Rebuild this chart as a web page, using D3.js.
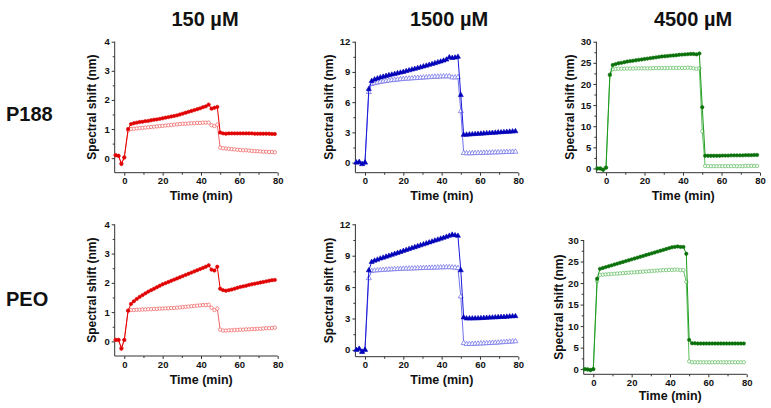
<!DOCTYPE html>
<html><head><meta charset="utf-8">
<script src="https://cdn.jsdelivr.net/npm/d3@7"></script>
<style>body{margin:0;background:#fff}svg{display:block;font-family:"Liberation Sans",Arial,sans-serif}</style>
</head><body><svg id="c" width="771" height="408"></svg>
<script>
// ---------- DATA ----------
const time = [-4.5,-3,-1.5,0,2,3.5,5,6.5,8,9.5,11,12.5,14,15.5,17,18.5,20,21.5,23,24.5,26,27.5,29,30.5,32,33.5,35,36.5,38,39.5,41,42.5,44,45.5,47,48.5,50,51.5,53,54.5,56,57.5,59,60.5,62,63.5,65,66.5,68,69.5,71,72.5,74,75.5,77,78.5];

const columnTitles = ["150 µM","1500 µM","4500 µM"];
const rowTitles = ["P188","PEO"];
const xTickValues = [0,20,40,60,80];
const yTicks150 = [0,1,2,3,4];
const yTicks1500 = [0,3,6,9,12];
const yTicks4500 = [0,5,10,15,20,25,30];
const xLabel = "Time (min)";
const yLabel = "Spectral shift (nm)";

const p188_150_filled = [0.10,0.08,-0.20,0.02,1.00,1.17,1.20,1.22,1.24,1.25,1.27,1.28,1.30,1.32,1.33,1.35,1.37,1.39,1.41,1.43,1.45,1.47,1.50,1.53,1.56,1.59,1.62,1.65,1.68,1.71,1.75,1.78,1.84,1.70,1.73,1.76,0.88,0.85,0.84,0.85,0.85,0.85,0.85,0.85,0.85,0.85,0.85,0.85,0.84,0.84,0.84,0.84,0.84,0.84,0.83,0.83];
const p188_150_open = [0.10,0.08,-0.18,0.03,0.95,1.00,1.01,1.02,1.03,1.04,1.05,1.06,1.07,1.08,1.09,1.10,1.11,1.12,1.13,1.14,1.15,1.16,1.17,1.18,1.18,1.19,1.20,1.20,1.21,1.21,1.22,1.22,1.22,1.13,1.10,1.15,0.36,0.34,0.33,0.32,0.31,0.30,0.29,0.28,0.27,0.27,0.26,0.25,0.24,0.24,0.23,0.22,0.22,0.21,0.21,0.20];

const p188_1500_filled = [0.00,0.05,-0.15,0.00,7.30,8.10,8.25,8.35,8.45,8.52,8.60,8.67,8.73,8.80,8.87,8.93,9.00,9.08,9.15,9.23,9.30,9.38,9.46,9.54,9.62,9.70,9.78,9.86,9.95,10.03,10.12,10.22,10.45,10.38,10.42,10.50,6.70,2.75,2.77,2.79,2.81,2.83,2.85,2.87,2.89,2.91,2.93,2.95,2.97,2.99,3.01,3.03,3.05,3.07,3.09,3.11];
const p188_1500_open = [0.00,0.05,-0.15,0.00,7.00,7.80,7.88,7.94,8.00,8.05,8.10,8.14,8.18,8.21,8.24,8.27,8.30,8.32,8.34,8.36,8.38,8.40,8.42,8.44,8.46,8.48,8.50,8.52,8.53,8.54,8.55,8.56,8.56,8.45,8.45,8.48,5.10,0.95,0.92,0.92,0.93,0.94,0.95,0.96,0.97,0.98,0.99,1.00,1.01,1.02,1.03,1.04,1.05,1.06,1.07,1.08];

const p188_4500_filled = [0.0,0.0,-0.3,0.2,22.2,24.5,24.7,24.9,25.0,25.15,25.3,25.4,25.5,25.6,25.7,25.8,25.9,26.0,26.1,26.2,26.3,26.4,26.5,26.55,26.6,26.7,26.75,26.8,26.9,26.95,27.0,27.05,27.1,27.1,27.0,27.2,14.5,3.0,3.0,3.0,3.0,3.0,3.0,3.05,3.05,3.05,3.1,3.1,3.1,3.1,3.1,3.15,3.15,3.15,3.2,3.2];
const p188_4500_open = [0.0,0.0,-0.3,0.2,22.0,23.5,23.55,23.6,23.6,23.6,23.65,23.65,23.65,23.7,23.7,23.7,23.7,23.7,23.7,23.75,23.75,23.75,23.75,23.75,23.75,23.8,23.8,23.8,23.8,23.8,23.8,23.85,23.8,23.7,23.6,23.7,8.8,0.6,0.55,0.55,0.55,0.55,0.55,0.55,0.55,0.55,0.55,0.55,0.55,0.55,0.55,0.6,0.6,0.6,0.6,0.6];

const peo_150_filled = [0.05,0.05,-0.25,0.05,1.05,1.28,1.37,1.45,1.52,1.58,1.64,1.70,1.75,1.80,1.85,1.90,1.95,1.99,2.03,2.07,2.11,2.15,2.19,2.23,2.27,2.31,2.35,2.39,2.43,2.47,2.51,2.55,2.60,2.45,2.42,2.55,1.80,1.75,1.73,1.75,1.77,1.80,1.83,1.86,1.88,1.90,1.93,1.95,1.97,1.99,2.01,2.03,2.05,2.07,2.09,2.10];
const peo_150_open = [0.05,0.05,-0.22,0.05,1.05,1.07,1.07,1.08,1.08,1.09,1.09,1.10,1.10,1.11,1.11,1.12,1.12,1.13,1.13,1.14,1.14,1.15,1.16,1.17,1.18,1.19,1.20,1.21,1.22,1.23,1.24,1.24,1.25,1.15,1.07,1.12,0.40,0.37,0.37,0.38,0.38,0.39,0.39,0.40,0.40,0.41,0.41,0.42,0.42,0.43,0.43,0.44,0.45,0.45,0.46,0.47];

const peo_1500_filled = [0.00,0.10,-0.20,0.00,7.60,8.40,8.52,8.62,8.72,8.81,8.90,8.99,9.08,9.17,9.26,9.35,9.45,9.54,9.63,9.72,9.81,9.90,9.99,10.08,10.17,10.26,10.35,10.44,10.53,10.62,10.71,10.80,10.90,11.00,10.95,10.90,7.60,3.10,3.00,3.00,3.00,3.01,3.02,3.03,3.05,3.06,3.08,3.09,3.11,3.12,3.14,3.15,3.17,3.19,3.21,3.22];
const peo_1500_open = [0.00,0.05,-0.15,0.00,6.85,7.55,7.58,7.60,7.62,7.64,7.66,7.68,7.69,7.71,7.72,7.74,7.75,7.76,7.77,7.78,7.79,7.80,7.81,7.82,7.83,7.84,7.85,7.86,7.87,7.88,7.89,7.90,7.90,7.88,7.86,7.82,5.10,0.65,0.56,0.56,0.57,0.58,0.60,0.61,0.62,0.64,0.65,0.67,0.68,0.70,0.72,0.74,0.76,0.78,0.80,0.82];

const peo_4500_filled = [0.0,-0.1,-0.2,0.0,21.0,23.3,23.5,23.7,23.9,24.1,24.3,24.5,24.7,24.9,25.1,25.3,25.5,25.7,25.9,26.1,26.3,26.5,26.7,26.9,27.1,27.3,27.5,27.7,27.9,28.1,28.3,28.4,28.5,28.4,28.4,26.8,6.8,6.0,6.0,5.95,5.95,5.95,5.95,5.95,5.95,5.95,5.95,5.95,5.95,5.95,5.95,5.95,5.95,5.95,5.95,5.95];
const peo_4500_open = [0.0,0.0,-0.2,0.0,20.4,21.9,21.95,22.0,22.05,22.1,22.15,22.2,22.25,22.3,22.35,22.4,22.45,22.5,22.55,22.6,22.65,22.7,22.75,22.8,22.85,22.9,22.95,23.0,23.0,23.05,23.05,23.1,23.1,23.0,23.0,20.3,1.8,1.6,1.6,1.6,1.6,1.6,1.6,1.6,1.6,1.6,1.6,1.6,1.6,1.6,1.6,1.6,1.6,1.6,1.6,1.6];

// ---------- LAYOUT / STYLE ----------
const red = {fLine:"#e80000", fMark:"#e00000", oLine:"#f06868", oMark:"#ee5a5a", shape:d3.symbolCircle};
const blue = {fLine:"#1a1ad8", fMark:"#0000b8", oLine:"#7070f0", oMark:"#6868e6", shape:d3.symbolTriangle};
const green = {fLine:"#1c9a1c", fMark:"#0a700a", oLine:"#5cc05c", oMark:"#5aba5a", shape:d3.symbolCircle};

const panels = [
  {filled:p188_150_filled, open:p188_150_open, c:red, ticks:yTicks150, yDom:[-0.5,4], xr:[114.7,277.7], yr:[172.7,41.7], yTitleX:92, xTitleY:200},
  {filled:p188_1500_filled, open:p188_1500_open, c:blue, ticks:yTicks1500, yDom:[-1,12], xr:[355.4,518.3], yr:[172.7,41.7], yTitleX:329, xTitleY:200},
  {filled:p188_4500_filled, open:p188_4500_open, c:green, ticks:yTicks4500, yDom:[-1,30], xr:[596.4,760], yr:[172.7,41.7], yTitleX:570, xTitleY:200},
  {filled:peo_150_filled, open:peo_150_open, c:red, ticks:yTicks150, yDom:[-0.5,4], xr:[114.7,277.7], yr:[356,224.3], yTitleX:92, xTitleY:384},
  {filled:peo_1500_filled, open:peo_1500_open, c:blue, ticks:yTicks1500, yDom:[-0.65,12], xr:[355.4,518.3], yr:[356.7,224.3], yTitleX:329, xTitleY:384},
  {filled:peo_4500_filled, open:peo_4500_open, c:green, ticks:yTicks4500, yDom:[-1.2,30], xr:[583.7,746.7], yr:[374.3,240], yTitleX:559, xTitleY:400}
];

const svg = d3.select("#c");
const txtCol = "#111";

// column + row titles
const colX = [205, 449, 693];
columnTitles.forEach((t,i)=>svg.append("text").attr("x",colX[i]).attr("y",26).attr("text-anchor","middle")
  .attr("font-size",20).attr("font-weight","bold").attr("fill",txtCol).text(t));
const rowY = [121, 306];
rowTitles.forEach((t,i)=>svg.append("text").attr("x",6).attr("y",rowY[i]).attr("font-size",20)
  .attr("font-weight","bold").attr("fill",txtCol).text(t));

panels.forEach(p=>{
  const x = d3.scaleLinear().domain([-5,80]).range(p.xr);
  const y = d3.scaleLinear().domain(p.yDom).range(p.yr);
  const g = svg.append("g");

  const xMinor = [10,30,50,70];
  const step = p.ticks[1]-p.ticks[0];
  const yMinor = p.ticks.slice(0,-1).map(v=>v+step/2);

  const xa = g.append("g").attr("transform",`translate(0,${p.yr[0]})`)
    .call(d3.axisBottom(x).tickValues(xTickValues).tickSize(3).tickPadding(2).tickFormat(d3.format("d")));
  const xm = g.append("g").attr("transform",`translate(0,${p.yr[0]})`)
    .call(d3.axisBottom(x).tickValues(xMinor).tickSize(2).tickFormat(""));
  const ya = g.append("g").attr("transform",`translate(${p.xr[0]},0)`)
    .call(d3.axisLeft(y).tickValues(p.ticks).tickSize(3).tickPadding(2).tickFormat(d3.format("d")));
  const ym = g.append("g").attr("transform",`translate(${p.xr[0]},0)`)
    .call(d3.axisLeft(y).tickValues(yMinor).tickSize(2).tickFormat(""));
  [xa,xm,ya,ym].forEach(a=>{
    a.selectAll("path").attr("stroke","#333").attr("stroke-width",1);
    a.selectAll("line").attr("stroke","#333");
    a.selectAll("text").attr("font-size",9.5).attr("font-weight","bold").attr("fill",txtCol)
      .attr("font-family",'"Liberation Sans",Arial,sans-serif');
  });
  ya.select(".domain").attr("d",`M-0,${p.yr[0]}V${p.yr[1]}`);
  xa.select(".domain").attr("d",`M${p.xr[0]},0H${p.xr[1]}`);
  xm.select(".domain").remove(); ym.select(".domain").remove();

  // axis titles
  g.append("text").attr("x",(p.xr[0]+p.xr[1])/2+5).attr("y",p.xTitleY).attr("text-anchor","middle")
    .attr("font-size",12.5).attr("font-weight","bold").attr("fill",txtCol).text(xLabel);
  g.append("text").attr("transform",`translate(${p.yTitleX},${(p.yr[0]+p.yr[1])/2}) rotate(-90)`)
    .attr("text-anchor","middle").attr("dy","0.35em").attr("font-size",12).attr("font-weight","bold")
    .attr("fill",txtCol).text(yLabel);

  const line = d3.line().x((d,i)=>x(time[i])).y(d=>y(d));
  const sym = d3.symbol().type(p.c.shape).size(p.c.shape===d3.symbolTriangle?11:9);

  // open series
  g.append("path").datum(p.open).attr("d",line).attr("fill","none").attr("stroke",p.c.oLine).attr("stroke-width",1);
  g.append("g").selectAll("path").data(p.open).join("path")
    .attr("transform",(d,i)=>`translate(${x(time[i])},${y(d)})`).attr("d",sym)
    .attr("fill","#fff").attr("stroke",p.c.oMark).attr("stroke-width",0.7);
  // filled series
  g.append("path").datum(p.filled).attr("d",line).attr("fill","none").attr("stroke",p.c.fLine).attr("stroke-width",1);
  g.append("g").selectAll("path").data(p.filled).join("path")
    .attr("transform",(d,i)=>`translate(${x(time[i])},${y(d)})`).attr("d",sym)
    .attr("fill",p.c.fMark).attr("stroke",p.c.fMark).attr("stroke-width",0.6);
});
</script>
</body></html>
